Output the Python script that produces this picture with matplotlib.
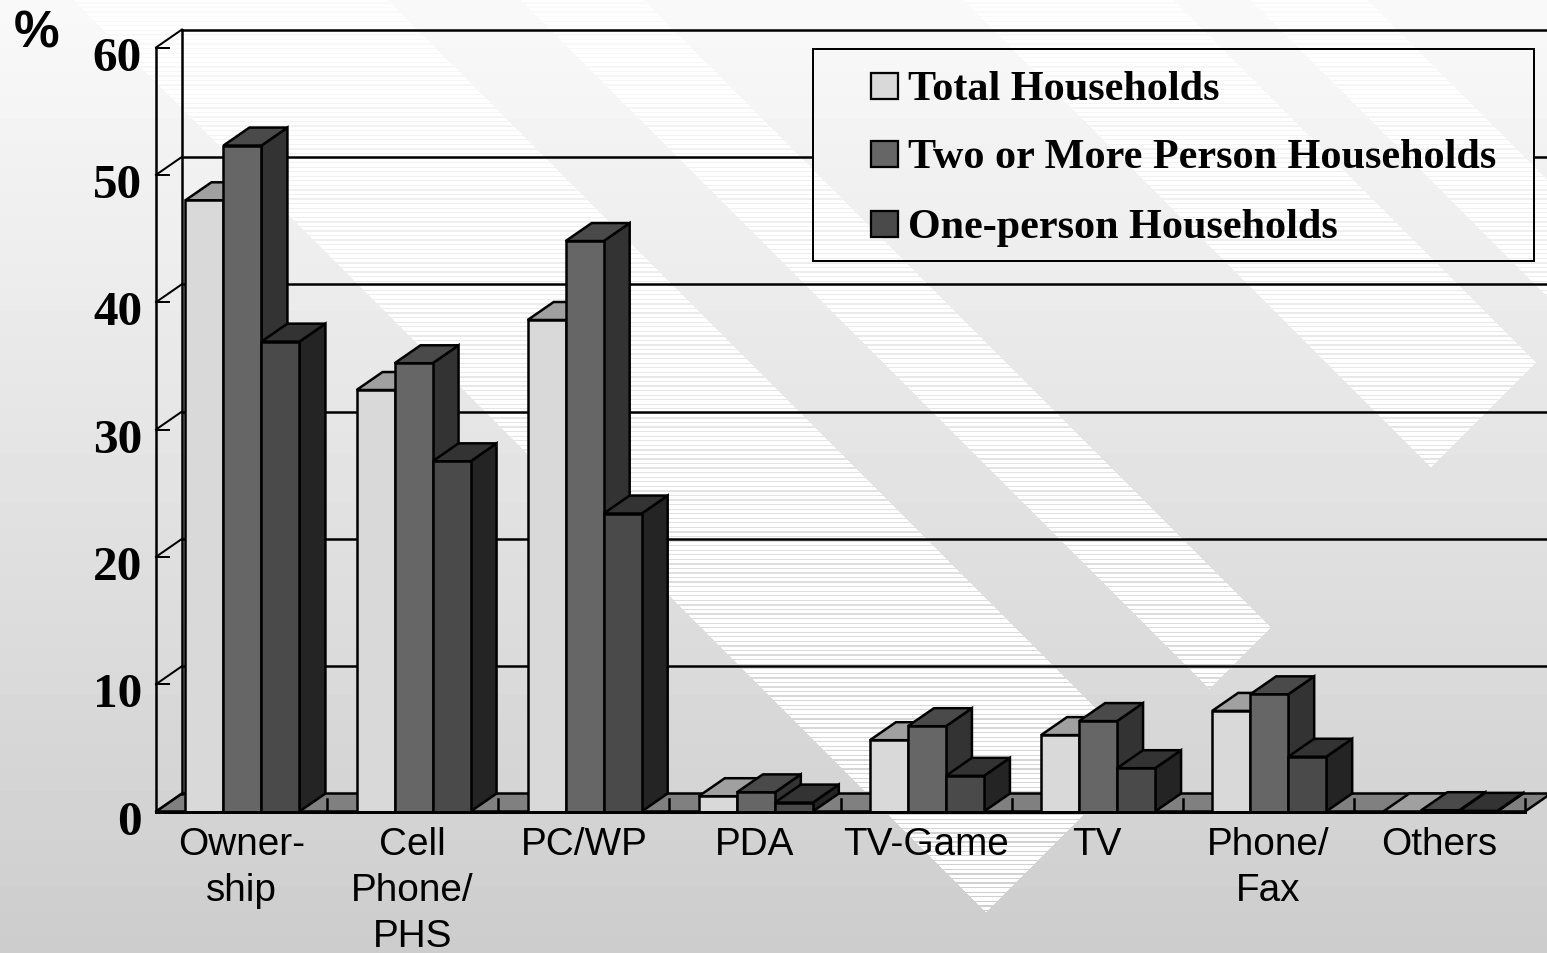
import numpy as np
import matplotlib
matplotlib.use('Agg')
import matplotlib.pyplot as plt
from matplotlib.patches import Polygon, Rectangle
from matplotlib.transforms import ScaledTranslation

# Data
categorias = ['Owner-\nship', 'Cell\nPhone/\nPHS', 'PC/WP', 'PDA', 'TV-Game', 'TV', 'Phone/\nFax', 'Others']
total = [48.0, 33.1, 38.6, 1.2, 5.6, 6.0, 7.9, 0.0]
dos_o_mas = [52.3, 35.2, 44.8, 1.5, 6.7, 7.1, 9.2, 0.1]
una_persona = [36.9, 27.5, 23.4, 0.7, 2.8, 3.4, 4.3, 0.05]
series_nombres = ['Total Households', 'Two or More Person Households', 'One-person Households']
yticks = [0, 10, 20, 30, 40, 50, 60]

W, H = 1547, 954
caras = ['#d9d9d9', '#666666', '#4a4a4a']
techos = ['#a0a0a0', '#4a4a4a', '#333333']
lados = ['#808080', '#333333', '#242424']
LW = 1.8


def fondo():
    # Vertical gradient plus the diagonal stripes with scan lines
    yy, xx = np.mgrid[0:H, 0:W]
    grad = 0.975 - 0.175 * np.floor(yy / 24) * 24 / H
    img = grad.copy()
    c = xx - yy
    franja = np.zeros_like(c, dtype=bool)
    for a, b in [(73, 387), (520, 643), (963, 1173), (1250, 1367)]:
        franja |= (c >= a) & (c < b)
    franja &= (xx + yy) <= 1898
    lineas = ((yy - 682.3) % 4.56) < 1.3
    img[franja & ~lineas] = 1.0
    return img


img = fondo()
fig = plt.figure(figsize=(W / 100, H / 100), dpi=100)

# Background
ax_bg = fig.add_axes([0, 0, 1, 1], zorder=0)
ax_bg.imshow(img, cmap='gray', vmin=0, vmax=1, aspect='auto', interpolation='nearest')
ax_bg.axis('off')

# Chart axes match the front plane of the 3D box
x0, x1, y0, y1 = 156, 1525, 812.5, 48.5
ax = fig.add_axes([x0 / W, 1 - y0 / H, (x1 - x0) / W, (y0 - y1) / H], zorder=1)
ax.set_xlim(0, 8)
ax.set_ylim(0, 60)
ax.patch.set_visible(False)
for s in ax.spines.values():
    s.set_visible(False)

dx = 26 / ((x1 - x0) / 8)
dy = 18 / ((y0 - y1) / 60)

# Floor, walls and grid
ax.add_patch(Polygon([(0, 0), (8, 0), (8 + dx, dy), (dx, dy)], closed=True, fc='#808080', ec='k',
                     lw=LW, clip_on=False, zorder=1))
ax.plot([0, 0], [0, 60], color='k', lw=LW, clip_on=False, zorder=2)
ax.plot([dx, dx], [dy, 60 + dy], color='k', lw=LW, clip_on=False, zorder=2)
for v in yticks:
    ax.plot([0, dx], [v, v + dy], color='k', lw=LW * 0.8, clip_on=False, zorder=2)
    if v > 0:
        ax.plot([dx, 8 + dx], [v + dy, v + dy], color='k', lw=LW, clip_on=False, zorder=2)
        ax.plot([0, 0.076], [v, v], color='k', lw=LW * 0.8, clip_on=False, zorder=2)
for k in range(1, 9):
    ax.plot([k, k], [0, 0.95], color='k', lw=LW, clip_on=False, zorder=2)

# Bars: each one drawn side, top and front so the next covers the previous
ancho = 38 / ((x1 - x0) / 8)
x = np.arange(len(categorias)) + 0.172
z = 3
for i, vals in enumerate([total, dos_o_mas, una_persona]):
    for xi, v in zip(x + i * ancho, vals):
        ax.add_patch(Polygon([(xi + ancho, 0), (xi + ancho + dx, dy), (xi + ancho + dx, v + dy), (xi + ancho, v)],
                             closed=True, fc=lados[i], ec='k', lw=LW, zorder=z, clip_on=False))
        ax.add_patch(Polygon([(xi, v), (xi + dx, v + dy), (xi + ancho + dx, v + dy), (xi + ancho, v)],
                             closed=True, fc=techos[i], ec='k', lw=LW, zorder=z, clip_on=False))
    ax.bar(x + i * ancho, vals, ancho, align='edge', color=caras[i], edgecolor='k', linewidth=LW,
           zorder=z + 1, clip_on=False)
    z += 2

ax.plot([0, 8], [0, 0], color='k', lw=LW * 1.2, clip_on=False, zorder=z)

# Tick labels
ax.set_xticks(np.arange(8) + 0.5, categorias, family='Liberation Sans', fontsize=27.9, linespacing=1.36)
ax.set_yticks(yticks, [str(v) for v in yticks], family='Liberation Serif', fontweight='bold', fontsize=35.5)
ax.tick_params(axis='x', length=0, pad=10.5)
ax.tick_params(axis='y', length=0, pad=10)
for lab in ax.get_yticklabels():
    lab.set_transform(lab.get_transform() + ScaledTranslation(0, -3.7 / 72, fig.dpi_scale_trans))

fig.text(14 / W, 1 - 47 / H, '%', family='Liberation Sans', fontweight='bold', fontsize=37, va='baseline')

# Legend box shows the background, so the grid line stops at it
lx0, lx1, ly0, ly1 = 813, 1534, 50, 262
ax_leg = fig.add_axes([lx0 / W, 1 - ly1 / H, (lx1 - lx0) / W, (ly1 - ly0) / H], zorder=2)
ax_leg.imshow(img[ly0:ly1, lx0:lx1], cmap='gray', vmin=0, vmax=1, aspect='auto', interpolation='nearest',
              extent=(lx0, lx1, ly1, ly0))
ax_leg.set_xticks([])
ax_leg.set_yticks([])
for s in ax_leg.spines.values():
    s.set_linewidth(LW * 0.8)
for nombre, cara, ys in zip(series_nombres, caras, [87, 155, 225]):
    ax_leg.add_patch(Rectangle((871, ys - 13), 27, 26, fc=cara, ec='k', lw=LW * 0.9))
    ax_leg.text(908, ys + 13, nombre, family='Liberation Serif', fontweight='bold', fontsize=30.3, va='baseline')

fig.savefig('out.png', dpi=100)
